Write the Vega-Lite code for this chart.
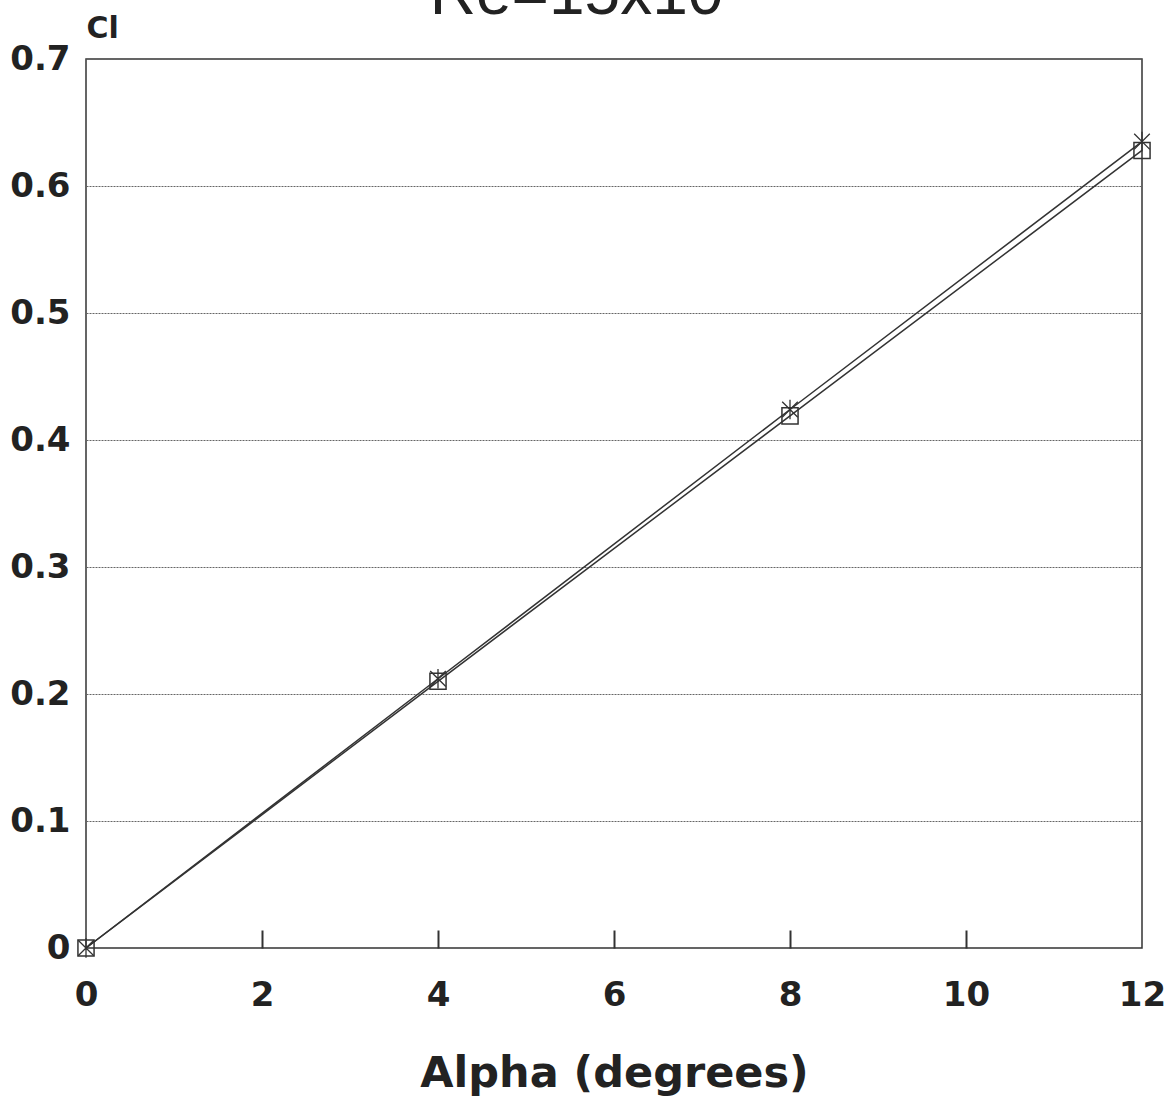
{
  "$schema": "https://vega.github.io/schema/vega-lite/v6.json",
  "width": 1056,
  "height": 889,
  "autosize": {"type": "none"},
  "padding": {"left": 86, "top": 59, "right": 23, "bottom": 153},
  "background": "white",
  "title": {"text": "Re=15x10⁶", "anchor": "start", "dx": 420, "dy": 18, "fontSize": 64, "font": "Liberation Sans", "fontWeight": "normal", "color": "#222"},
  "config": {
    "view": {"stroke": "#333", "strokeWidth": 1.5},
    "font": "DejaVu Sans"
  },
  "resolve": {"axis": {"x": "independent"}},
  "data": {"values": [
    {"alpha": 0, "cl": 0, "series": "A"},
    {"alpha": 4, "cl": 0.212, "series": "A"},
    {"alpha": 8, "cl": 0.424, "series": "A"},
    {"alpha": 12, "cl": 0.635, "series": "A"},
    {"alpha": 0, "cl": 0, "series": "B"},
    {"alpha": 4, "cl": 0.21, "series": "B"},
    {"alpha": 8, "cl": 0.419, "series": "B"},
    {"alpha": 12, "cl": 0.628, "series": "B"}
  ]},
  "encoding": {
    "y": {"field": "cl", "type": "quantitative", "scale": {"domain": [0, 0.7], "nice": false},
      "axis": {"title": "Cl", "values": [0, 0.1, 0.2, 0.3, 0.4, 0.5, 0.6, 0.7], "format": "~g", "ticks": false, "domain": false,
        "grid": true, "gridColor": "#666", "gridDash": [2, 1], "gridWidth": 1, "labelFlush": false,
        "labelFontSize": 34, "labelFont": "DejaVu Sans", "labelFontWeight": "bold", "labelColor": "#222", "labelPadding": 16,
        "titleAngle": 0, "titleX": 0, "titleY": -22, "titleAlign": "left", "titleBaseline": "alphabetic",
        "titleFontSize": 30, "titleFont": "DejaVu Sans", "titleFontWeight": "bold", "titleColor": "#222"}}
  },
  "layer": [
    {"mark": {"type": "line", "color": "#333", "strokeWidth": 1.5},
     "encoding": {"detail": {"field": "series"},
       "x": {"field": "alpha", "type": "quantitative", "scale": {"domain": [0, 12], "nice": false, "zero": false},
      "axis": {"title": "Alpha (degrees)", "values": [0, 2, 4, 6, 8, 10, 12], "grid": false, "ticks": false, "domain": false, "labelFlush": false,
        "labelFontSize": 34, "labelFont": "DejaVu Sans", "labelFontWeight": "bold", "labelColor": "#222", "labelPadding": 30,
        "titleFontSize": 43, "titleFont": "DejaVu Sans", "titleFontWeight": "bold", "titleColor": "#222", "titlePadding": 40}}}},
    {"transform": [{"filter": "datum.series == 'B'"}],
     "mark": {"type": "point", "shape": "square", "filled": false, "color": "#333", "strokeWidth": 1.5, "size": 260, "opacity": 1},
     "encoding": {"x": {"field": "alpha", "type": "quantitative", "axis": null}}},
    {"transform": [{"filter": "datum.series == 'A'"}],
     "mark": {"type": "point", "shape": "M0,-1L0,1M-0.8,-0.8L0.8,0.8M-0.8,0.8L0.8,-0.8", "filled": false, "color": "#333", "strokeWidth": 1.3, "size": 380, "opacity": 1},
     "encoding": {"x": {"field": "alpha", "type": "quantitative", "axis": null}}},
    {"mark": {"type": "point", "opacity": 0},
     "encoding": {"x": {"field": "alpha", "type": "quantitative", "axis": {"orient": "bottom", "offset": -18, "values": [2, 4, 6, 8, 10], "labels": false, "title": null, "grid": false, "domain": false, "ticks": true, "tickSize": 18, "tickWidth": 2, "tickColor": "#333"}}}}
  ]
}
